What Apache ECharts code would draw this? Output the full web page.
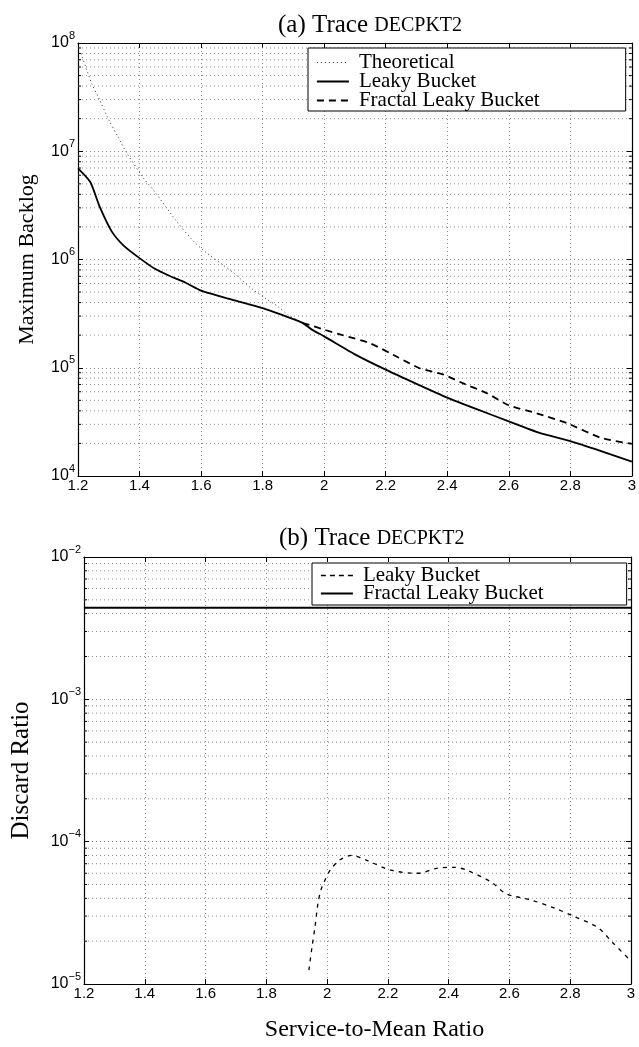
<!DOCTYPE html>
<html>
<head>
<meta charset="utf-8">
<script src="https://cdn.jsdelivr.net/npm/echarts@6/dist/echarts.min.js"></script>
<style>html,body{margin:0;padding:0;background:#fff;}#c{width:639px;height:1047px;}</style>
</head>
<body>
<div id="c"></div>
<script>
// ---------- data ----------
const xTicks = [1.2, 1.4, 1.6, 1.8, 2, 2.2, 2.4, 2.6, 2.8, 3];
const yTicksA = [1e4, 1e5, 1e6, 1e7, 1e8];
const yTicksB = [1e-5, 1e-4, 1e-3, 1e-2];

// (a) Maximum Backlog
const theoX = [1.21, 1.245, 1.27, 1.30, 1.33, 1.356, 1.41, 1.453, 1.518, 1.572, 1.61, 1.671, 1.704, 1.764, 1.808, 1.851, 1.883, 1.92];
const theoY = [8.0e7, 4.2e7, 3.0e7, 1.95e7, 1.36e7, 9.9e6, 5.8e6, 4.1e6, 2.3e6, 1.51e6, 1.2e6, 8.9e5, 7.6e5, 5.4e5, 4.4e5, 3.66e5, 3.07e5, 2.7e5];

const leakyX = [1.2, 1.24, 1.27, 1.31, 1.35, 1.4, 1.45, 1.5, 1.55, 1.6, 1.7, 1.8, 1.88, 1.93, 1.96, 2.0, 2.1, 2.2, 2.3, 2.4, 2.5, 2.6, 2.7, 2.8, 2.9, 3.0];
const leakyY = [6.95e6, 5.2e6, 3.1e6, 1.81e6, 1.33e6, 1.03e6, 8.2e5, 7.0e5, 6.1e5, 5.15e5, 4.25e5, 3.55e5, 2.95e5, 2.6e5, 2.25e5, 1.95e5, 1.33e5, 9.6e4, 7.1e4, 5.3e4, 4.1e4, 3.2e4, 2.5e4, 2.1e4, 1.7e4, 1.36e4];

const fractalX = [1.93, 1.96, 2.0, 2.06, 2.15, 2.24, 2.31, 2.39, 2.45, 2.53, 2.6, 2.69, 2.79, 2.9, 3.0];
const fractalY = [2.58e5, 2.45e5, 2.25e5, 2.0e5, 1.68e5, 1.25e5, 9.9e4, 8.6e4, 7.2e4, 5.8e4, 4.5e4, 3.8e4, 3.07e4, 2.25e4, 1.98e4];

// (b) Discard Ratio
const discLeakyX = [1.94, 1.95, 1.96, 1.97, 1.98, 1.99, 2.01, 2.04, 2.08, 2.13, 2.21, 2.30, 2.36, 2.42, 2.46, 2.54, 2.59, 2.67, 2.75, 2.81, 2.89, 2.94, 3.0];
const discLeakyY = [1.25e-5, 1.8e-5, 2.5e-5, 3.7e-5, 4.6e-5, 5.2e-5, 6.3e-5, 7.4e-5, 8.0e-5, 7.4e-5, 6.3e-5, 6.0e-5, 6.5e-5, 6.6e-5, 6.3e-5, 5.2e-5, 4.3e-5, 3.9e-5, 3.4e-5, 3.0e-5, 2.5e-5, 1.95e-5, 1.45e-5];
const discFractalX = [1.2, 3.0];
const discFractalY = [4.4e-3, 4.4e-3];

// ---------- helpers ----------
const zip = (xs, ys) => xs.map((x, i) => [x, ys[i]]);
const X_MIN = xTicks[0], X_MAX = xTicks[xTicks.length - 1];
function minorVals(ticks) {
  const out = [];
  for (let i = 0; i < ticks.length - 1; i++) for (let m = 2; m <= 9; m++) out.push([X_MIN, m * ticks[i]]);
  return out;
}
const SANS = 'Liberation Sans', SERIF = 'Liberation Serif';
const GRID_COLOR = '#8c8c8c';
const supLabel = v => {
  const e = Math.round(Math.log10(v));
  return '{m|10}{e|' + (e < 0 ? '\u2212' + (-e) : e) + '}';
};
const yLabelRich = {
  m: { fontFamily: SANS, fontSize: 16, color: '#000', lineHeight: 16, padding: [5, 0, 5, 0] },
  e: { fontFamily: SANS, fontSize: 11, color: '#000', lineHeight: 11, padding: [0, 0, 15, 0] }
};

function xAxes(gridIndex, showName) {
  return [{
    type: 'value', gridIndex, min: X_MIN, max: X_MAX, interval: 0.2, position: 'bottom',
    axisLine: { onZero: false, lineStyle: { color: '#000', width: 1.2 } },
    axisTick: { inside: true, length: 5, lineStyle: { color: '#000' } },
    axisLabel: { fontFamily: SANS, fontSize: 15, color: '#000', margin: 2, formatter: v => String(+v.toFixed(1)) },
    splitLine: { show: true, lineStyle: { color: GRID_COLOR, type: [1, 3], width: 1 } },
    name: showName ? 'Service-to-Mean Ratio' : '', nameLocation: 'middle', nameGap: 34,
    nameTextStyle: { fontFamily: SERIF, fontSize: 24, color: '#000', padding: [0, 0, 0, 34] }
  }, {
    type: 'value', gridIndex, min: X_MIN, max: X_MAX, interval: 0.2, position: 'top',
    axisLine: { onZero: false, lineStyle: { color: '#000', width: 1.2 } },
    axisTick: { inside: true, length: 5, lineStyle: { color: '#000' } },
    axisLabel: { show: false }, splitLine: { show: false }
  }];
}
function yAxes(gridIndex, ticks, name, nameSize, nameGap) {
  return [{
    type: 'log', logBase: 10, gridIndex, min: ticks[0], max: ticks[ticks.length - 1], position: 'left',
    axisLine: { onZero: false, lineStyle: { color: '#000', width: 1.2 } },
    axisTick: { inside: true, length: 5, lineStyle: { color: '#000' } },
    axisLabel: { margin: 3, formatter: supLabel, rich: yLabelRich },
    splitLine: { show: true, lineStyle: { color: GRID_COLOR, type: [1, 3], width: 1 } },
    name, nameLocation: 'middle', nameGap,
    nameTextStyle: { fontFamily: SERIF, fontSize: nameSize, color: '#000' }
  }, {
    type: 'log', logBase: 10, gridIndex, min: ticks[0], max: ticks[ticks.length - 1], position: 'right',
    axisLine: { onZero: false, lineStyle: { color: '#000', width: 1.2 } },
    axisTick: { inside: true, length: 5, lineStyle: { color: '#000' } },
    axisLabel: { show: false }, splitLine: { show: false }
  }];
}
function minorSeries(xi, yi, ticks) {
  return {
    type: 'custom', xAxisIndex: xi, yAxisIndex: yi, silent: true, z: 1,
    data: minorVals(ticks),
    renderItem: (params, api) => {
      const v = api.value(1);
      const p0 = api.coord([X_MIN, v]), p1 = api.coord([X_MAX, v]);
      return { type: 'group', children: [
        { type: 'line', shape: { x1: p0[0], y1: p0[1], x2: p1[0], y2: p1[1] }, style: { stroke: GRID_COLOR, lineWidth: 1, lineDash: [1, 3] } },
        { type: 'line', shape: { x1: p0[0], y1: p0[1], x2: p0[0] + 3, y2: p0[1] }, style: { stroke: '#000', lineWidth: 1 } },
        { type: 'line', shape: { x1: p1[0] - 3, y1: p1[1], x2: p1[0], y2: p1[1] }, style: { stroke: '#000', lineWidth: 1 } }
      ] };
    }
  };
}
const titleRich = {
  a: { fontFamily: SERIF, fontSize: 25, fontWeight: 'normal', color: '#000' },
  b: { fontFamily: SERIF, fontSize: 20, fontWeight: 'normal', color: '#000' }
};
const hideSym = { opacity: 0, color: '#000', borderWidth: 0 };
const legendBase = {
  orient: 'vertical', itemWidth: 32, itemHeight: 12,
  backgroundColor: '#fff', borderColor: '#000', borderWidth: 1, borderRadius: 0,
  selectedMode: false, formatter: n => n.trim(),
  textStyle: { fontFamily: SERIF, fontSize: 21, color: '#000', padding: [0, 0, 0, 5] }
};
const blackItem = { color: '#000' };

const chart = echarts.init(document.getElementById('c'), null, { renderer: 'canvas' });
chart.setOption({
  backgroundColor: '#fff',
  animation: false,
  title: [
    { text: '{a|(a) Trace }{b|DECPKT2}', left: 278, top: 13, padding: 0, textStyle: { fontWeight: 'normal', rich: titleRich } },
    { text: '{a|(b) Trace }{b|DECPKT2}', left: 279, top: 526, padding: 0, textStyle: { fontWeight: 'normal', rich: titleRich } }
  ],
  grid: [
    { left: 78, right: 7, top: 43, height: 433 },
    { left: 84, right: 8, top: 557, height: 427 }
  ],
  xAxis: [...xAxes(0, false), ...xAxes(1, true)],
  yAxis: [...yAxes(0, yTicksA, 'Maximum Backlog', 22, 40), ...yAxes(1, yTicksB, 'Discard Ratio', 25, 50)],
  legend: [
    Object.assign({}, legendBase, {
      left: 308, top: 48, padding: [4, 86, 0, 8], itemGap: -2,
      data: [
        { name: 'Theoretical', itemStyle: hideSym, lineStyle: { type: [1, 3], width: 1, color: '#333' } },
        { name: 'Leaky Bucket', itemStyle: hideSym, lineStyle: { type: 'solid', width: 1.8, color: '#000' } },
        { name: 'Fractal Leaky Bucket', itemStyle: hideSym, lineStyle: { type: [7, 5], width: 1.8, color: '#000' } }
      ]
    }),
    Object.assign({}, legendBase, {
      left: 312, top: 563, padding: [2, 83, 1, 8], itemGap: -3,
      data: [
        { name: 'Leaky Bucket ', itemStyle: hideSym, lineStyle: { type: [5, 4], width: 1.3, color: '#000' } },
        { name: 'Fractal Leaky Bucket ', itemStyle: hideSym, lineStyle: { type: 'solid', width: 1.8, color: '#000' } }
      ]
    })
  ],
  series: [
    minorSeries(0, 0, yTicksA),
    minorSeries(2, 2, yTicksB),
    { name: 'Theoretical', type: 'line', xAxisIndex: 0, yAxisIndex: 0, data: zip(theoX, theoY), showSymbol: false, symbol: 'none', smooth: 0.3,
      itemStyle: blackItem, lineStyle: { type: [1, 3], width: 1, color: '#333' }, z: 3 },
    { name: 'Leaky Bucket', type: 'line', xAxisIndex: 0, yAxisIndex: 0, data: zip(leakyX, leakyY), showSymbol: false, symbol: 'none', smooth: 0.2,
      itemStyle: blackItem, lineStyle: { type: 'solid', width: 1.8, color: '#000' }, z: 4 },
    { name: 'Fractal Leaky Bucket', type: 'line', xAxisIndex: 0, yAxisIndex: 0, data: zip(fractalX, fractalY), showSymbol: false, symbol: 'none', smooth: 0.2,
      itemStyle: blackItem, lineStyle: { type: [7, 5], width: 1.8, color: '#000' }, z: 4 },
    { name: 'Leaky Bucket ', type: 'line', xAxisIndex: 2, yAxisIndex: 2, data: zip(discLeakyX, discLeakyY), showSymbol: false, symbol: 'none', smooth: 0.3,
      itemStyle: blackItem, lineStyle: { type: [4, 5], width: 1.3, color: '#000' }, z: 4 },
    { name: 'Fractal Leaky Bucket ', type: 'line', xAxisIndex: 2, yAxisIndex: 2, data: zip(discFractalX, discFractalY), showSymbol: false, symbol: 'none',
      itemStyle: blackItem, lineStyle: { type: 'solid', width: 1.8, color: '#000' }, z: 4 }
  ]
});
</script>
</body>
</html>
